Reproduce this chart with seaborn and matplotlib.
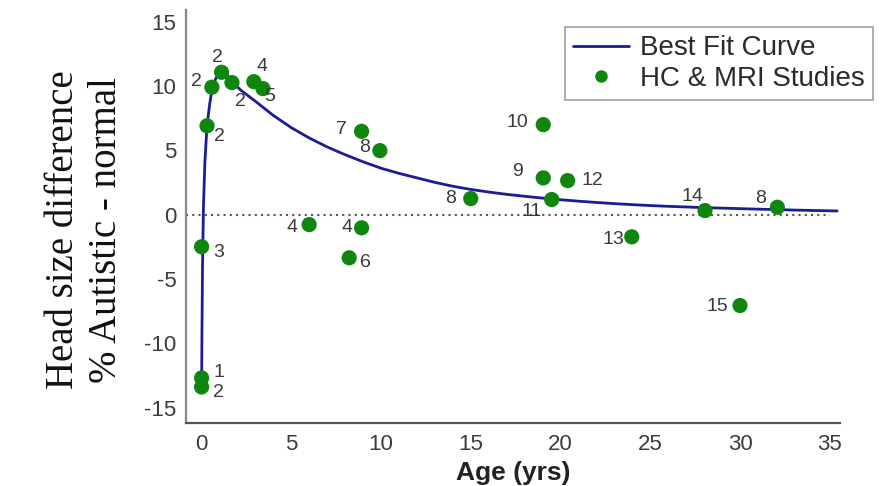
import matplotlib
matplotlib.use("Agg")
import matplotlib.pyplot as plt
import seaborn as sns
import pandas as pd
from matplotlib.lines import Line2D

# ---------------- data ----------------
study_age = [0.0, 0.0, 0.0, 0.3, 0.57, 1.11, 1.69, 2.91, 3.42, 5.99, 8.91, 9.93,
             8.91, 8.22, 14.99, 19.03, 19.03, 20.39, 19.5, 23.96, 28.04, 32.07, 29.99]
study_diff = [-12.7, -13.4, -2.5, 6.9, 9.9, 11.06, 10.26, 10.33, 9.79, -0.78, 6.47, 4.97,
              -1.03, -3.36, 1.24, 6.99, 2.85, 2.64, 1.17, -1.73, 0.31, 0.57, -7.07]
study_label = ["1", "2", "3", "2", "2", "2", "2", "4", "5", "4", "7", "8",
               "4", "6", "8", "10", "9", "12", "11", "13", "14", "8", "15"]

curve_age = [0.0, 0.02, 0.05, 0.1, 0.18, 0.3, 0.45, 0.6, 0.8, 1.1, 1.4, 1.7, 2.2, 3.0,
             4.0, 5.0, 6.0, 7.0, 8.0, 9.0, 10.0, 11.0, 12.0, 13.0, 14.0, 15.0, 16.0, 17.0,
             18.0, 19.0, 20.0, 21.0, 22.0, 23.0, 24.0, 25.0, 26.0, 27.0, 28.0, 29.0, 30.0,
             31.0, 32.0, 33.0, 34.0, 35.4]
curve_diff = [-13.5, -9.0, -4.0, 0.5, 4.0, 6.9, 8.6, 9.9, 10.6, 11.05, 10.9, 10.3, 9.65, 8.8,
              7.7, 6.75, 5.95, 5.25, 4.65, 4.1, 3.6, 3.2, 2.85, 2.5, 2.2, 1.95, 1.75, 1.57,
              1.42, 1.28, 1.15, 1.04, 0.94, 0.85, 0.77, 0.7, 0.64, 0.59, 0.54, 0.5, 0.46,
              0.42, 0.39, 0.35, 0.32, 0.28]

x_ticks = [0, 5, 10, 15, 20, 25, 30, 35]
y_ticks = [15, 10, 5, 0, -5, -10, -15]

# label offsets in pixels (style only)
label_offsets = [(17, -5), (17, 6), (17, 6), (12, 11), (-15, -6), (-4, -15), (8, 19),
                 (8, -15), (7, 8), (-17, 3), (-20, -2), (-15, -3), (-15, 0), (16, 5),
                 (-20, 0), (-26, -2), (-26, -6), (25, 0), (-20, 12), (-18, 3), (-13, -14),
                 (-17, -9), (-23, 1)]

# ---------------- style ----------------
sns.set_theme(style="white")
plt.rcParams["font.family"] = ["Liberation Sans", "DejaVu Sans"]
plt.rcParams["axes.unicode_minus"] = False

GREEN = "#0f870f"
BLUE = "#1c1c96"

fig = plt.figure(figsize=(8.9, 4.86), dpi=100)
ax = fig.add_axes([186 / 890, 1 - 423 / 486, (840 - 186) / 890, (423 - 10) / 486])

studies = pd.DataFrame({"age": study_age, "diff": study_diff, "label": study_label})
curve = pd.DataFrame({"age": curve_age, "diff": curve_diff})

sns.lineplot(data=curve, x="age", y="diff", ax=ax, color=BLUE, linewidth=2.0,
             estimator=None, sort=False, zorder=2)
sns.scatterplot(data=studies, x="age", y="diff", ax=ax, color=GREEN, s=120,
                edgecolor="none", linewidth=0, zorder=3)

ax.axhline(0, xmin=0, xmax=(35 + 0.87) / (35.56 + 0.87), color="#555555",
           linestyle=(0, (1, 2)), linewidth=1.5, zorder=1)

for (xv, yv, lab), (dx, dy) in zip(zip(study_age, study_diff, study_label), label_offsets):
    ax.annotate(lab, (xv, yv), xytext=(dx * 0.72, -dy * 0.72), textcoords="offset points",
                ha="center", va="center", fontsize=14, color="#3a3a3a", zorder=4)

ax.set_xlim(-0.87, 35.56)
ax.set_ylim(-16.2, 15.9)
ax.set_xticks(x_ticks)
ax.set_yticks(y_ticks)
ax.set_xticklabels([str(v) for v in x_ticks])
ax.set_yticklabels([str(v) for v in y_ticks])
ax.tick_params(axis="both", length=0, labelsize=16, labelcolor="#3c3c3c")
ax.tick_params(axis="y", pad=7)
ax.tick_params(axis="x", pad=8)

for side in ["top", "right"]:
    ax.spines[side].set_visible(False)
ax.spines["left"].set_color("#888888")
ax.spines["left"].set_linewidth(1.6)
ax.spines["bottom"].set_color("#555555")
ax.spines["bottom"].set_linewidth(1.6)

ax.set_xlabel("Age (yrs)", fontsize=19, fontweight="bold", color="#222222", labelpad=4)
ax.set_ylabel("")

fig.text(85 / 890, 1 - 230 / 486, "Head size difference\n% Autistic - normal",
         rotation=90, ha="center", va="center", multialignment="center",
         fontsize=28, family=["Liberation Serif", "DejaVu Serif"], color="#111111",
         linespacing=1.2)

handles = [Line2D([0], [0], color=BLUE, lw=2.0),
           Line2D([0], [0], marker="o", color="none", markerfacecolor=GREEN,
                  markeredgecolor="none", markersize=9)]
leg = fig.legend(handles, ["Best Fit Curve", "HC & MRI Studies"],
                 loc="upper right", bbox_to_anchor=(873 / 890, 1 - 27 / 486),
                 fontsize=20, frameon=True, fancybox=False, handlelength=2.0,
                 handletextpad=0.4, borderpad=0.3, labelspacing=0.15,
                 borderaxespad=0)
leg.get_frame().set_edgecolor("#888888")
leg.get_frame().set_linewidth(1.2)
for t in leg.get_texts():
    t.set_color("#2a2a2a")

fig.savefig("out.png", dpi=100)
